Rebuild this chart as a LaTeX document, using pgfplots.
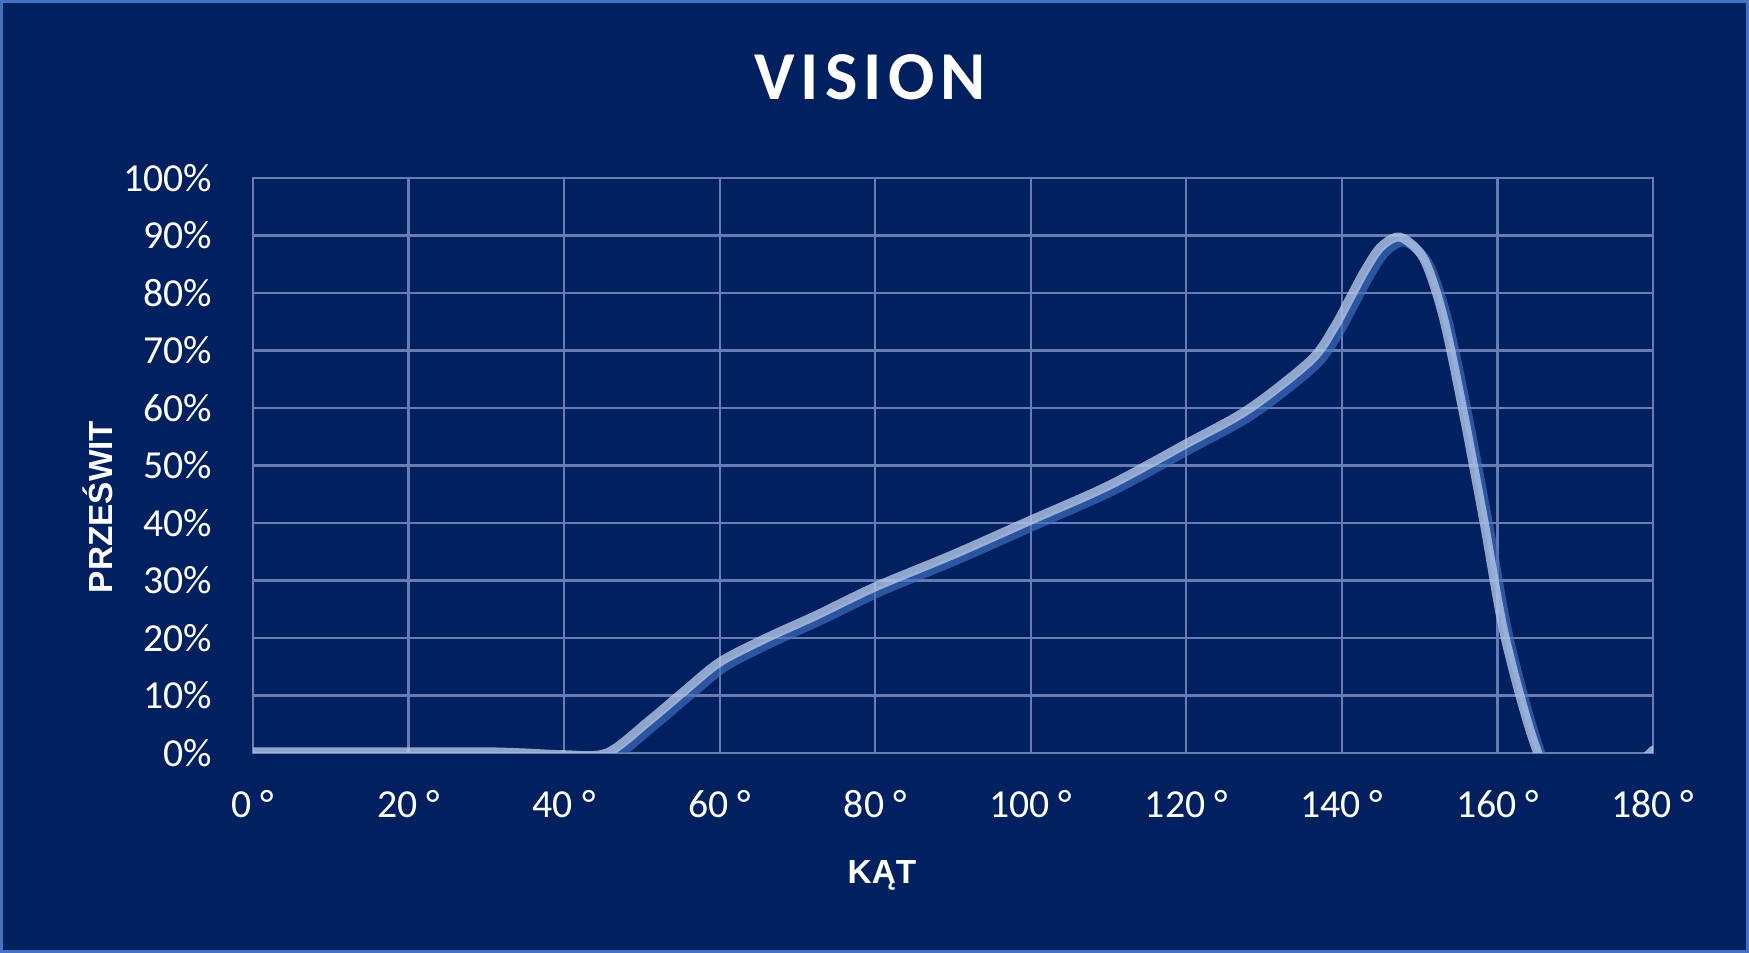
\documentclass[border=0pt]{standalone}
\usepackage{fontspec}
\setmainfont{Carlito}
\newfontfamily\titlefont[LetterSpace=9]{Carlito}
\newfontfamily\labfont{Liberation Sans}
\usepackage{pgfplots}
\pgfplotsset{compat=1.18}

\definecolor{bg}{HTML}{002060}
\definecolor{framec}{HTML}{4472C4}
\definecolor{gridc}{RGB}{102,124,178}
\definecolor{curvec}{HTML}{B4C7E7}
\definecolor{shadowc}{HTML}{4472C4}

\pgfplotstableread{
kat    przeswit
0      0.2
10     0.2
20     0.2
30     0.2
35     0.0
40    -0.3
45.5   0.0
51     5.7
55.3  10.6
60    15.8
66    20.0
72.5  24.0
80    28.9
90    34.5
100   40.5
110   46.5
120   53.8
128   59.8
136   68.3
139   74.0
141   79.0
143   84.0
145   88.0
147.5 89.7
150.5 86.0
153   76.0
155.5 60.0
158.3 40.0
161.0 20.0
165.2  0.0
170  -10.0
175   -6.0
180    0.5
}\vision

\begin{document}
\begin{tikzpicture}
\fill[bg] (0,0) rectangle (174.9mm,95.3mm);
\draw[framec, line width=0.3mm] (0.15mm,0.15mm) rectangle (174.75mm,95.15mm);

\begin{axis}[
  at={(25.3mm,20.0mm)}, anchor=south west,
  scale only axis,
  width=140mm, height=57.5mm,
  xmin=0, xmax=180, ymin=0, ymax=100,
  xtick={0,20,...,180},
  ytick={0,10,...,100},
  xticklabels={{0 °},{20 °},{40 °},{60 °},{80 °},{100 °},{120 °},{140 °},{160 °},{180 °}},
  yticklabels={0\%,10\%,20\%,30\%,40\%,50\%,60\%,70\%,80\%,90\%,100\%},
  grid=major,
  major grid style={gridc, line width=0.65pt},
  axis line style={gridc, line width=0.65pt},
  major tick length=0pt,
  tick style={draw=none},
  ticklabel style={text=white, font=\fontsize{11.3}{13}\selectfont},
  yticklabel style={anchor=east, inner sep=0pt, xshift=-4mm},
  xticklabel style={anchor=north, inner sep=0pt, yshift=-3.7mm},
]
\addplot[draw=shadowc, draw opacity=0.65, line width=0.9mm, smooth, line cap=round, line join=round,
  xshift=0.5mm, yshift=-0.5mm] table[x=kat, y=przeswit] {\vision};
\addplot[draw=curvec, draw opacity=0.8, line width=0.9mm, smooth, line cap=round, line join=round]
  table[x=kat, y=przeswit] {\vision};
\end{axis}

\node[anchor=base, text=white, font=\titlefont\bfseries\fontsize{19.5}{21}\selectfont]
  at (87.0mm,85.3mm) {VISION};
\node[anchor=base, rotate=90, text=white, font=\labfont\bfseries\fontsize{9.5}{11}\selectfont]
  at (11.2mm,44.6mm) {PRZEŚWIT};
\node[anchor=base, text=white, font=\labfont\bfseries\fontsize{9.5}{11}\selectfont]
  at (88.2mm,6.9mm) {KĄT};
\end{tikzpicture}
\end{document}
